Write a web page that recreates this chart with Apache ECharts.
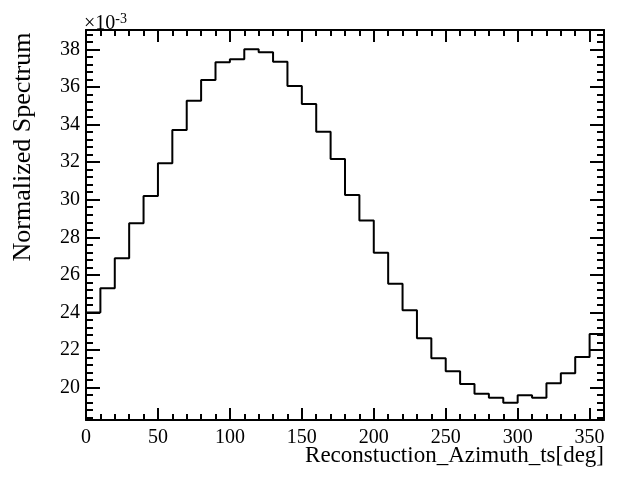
<!DOCTYPE html>
<html>
<head>
<meta charset="utf-8">
<script src="https://cdn.jsdelivr.net/npm/echarts@6/dist/echarts.min.js"></script>
<style>
html,body{margin:0;padding:0;background:#fff;}
#chart{width:623px;height:479px;}
</style>
</head>
<body>
<div id="chart"></div>
<script>
// Bin lower edges (deg), 10-degree bins from 0 to 360
var binEdges = [0,10,20,30,40,50,60,70,80,90,100,110,120,130,140,150,160,170,180,190,200,210,220,230,240,250,260,270,280,290,300,310,320,330,340,350,360];
// Normalized spectrum per bin, in units of 1e-3
var binValues = [24.00,25.29,26.88,28.75,30.20,31.94,33.71,35.27,36.37,37.31,37.47,38.00,37.84,37.34,36.05,35.09,33.62,32.16,30.25,28.90,27.18,25.53,24.12,22.63,21.56,20.87,20.20,19.68,19.47,19.20,19.60,19.47,20.23,20.77,21.63,22.86];
// Tick labels
var xTickLabels = [0,50,100,150,200,250,300,350];
var yTickLabels = [20,22,24,26,28,30,32,34,36,38];
var xMinorTicks = [10,20,30,40,60,70,80,90,110,120,130,140,160,170,180,190,210,220,230,240,260,270,280,290,310,320,330,340,360];
var yMinorTicks = [18.4,18.8,19.2,19.6,20.4,20.8,21.2,21.6,22.4,22.8,23.2,23.6,24.4,24.8,25.2,25.6,26.4,26.8,27.2,27.6,28.4,28.8,29.2,29.6,30.4,30.8,31.2,31.6,32.4,32.8,33.2,33.6,34.4,34.8,35.2,35.6,36.4,36.8,37.2,37.6,38.4,38.8];
var xRange = [0,360];
var yRange = [18.28,39.03];

var FONT = '"Liberation Serif","Times New Roman",serif';

// step data: each bin value held across its bin, final edge repeats last value
var stepData = binEdges.map(function(e,i){ return [e, binValues[Math.min(i, binValues.length-1)]]; });

function xAx(pos, ticks, len, showLine, showLabel){
  return {
    type:'value', position:pos, min:xRange[0], max:xRange[1], offset:0,
    axisLine:{show:showLine, onZero:false, lineStyle:{color:'#000', width:2}},
    axisTick:{show:true, inside:true, length:len, customValues:ticks, lineStyle:{color:'#000', width:2}},
    axisLabel:{show:showLabel, customValues:ticks, color:'#000', fontFamily:FONT, fontSize:20, margin:8},
    splitLine:{show:false}, minorTick:{show:false}
  };
}
function yAx(pos, ticks, len, showLine, showLabel){
  return {
    type:'value', position:pos, min:yRange[0], max:yRange[1], offset:0,
    axisLine:{show:showLine, onZero:false, lineStyle:{color:'#000', width:2}},
    axisTick:{show:true, inside:true, length:len, customValues:ticks, lineStyle:{color:'#000', width:2}},
    axisLabel:{show:showLabel, customValues:ticks, color:'#000', fontFamily:FONT, fontSize:20, margin:6},
    splitLine:{show:false}, minorTick:{show:false}
  };
}

var chart = echarts.init(document.getElementById('chart'), null, {renderer:'canvas'});
chart.setOption({
  animation:false,
  backgroundColor:'#fff',
  grid:{left:86, right:19, top:30, bottom:59, containLabel:false, outerBoundsMode:'none'},
  xAxis:[
    xAx('bottom', xTickLabels, 12, true, true),
    xAx('bottom', xMinorTicks, 6, false, false),
    xAx('top', xTickLabels, 12, true, false),
    xAx('top', xMinorTicks, 6, false, false)
  ],
  yAxis:[
    yAx('left', yTickLabels, 14, true, true),
    yAx('left', yMinorTicks, 7, false, false),
    yAx('right', yTickLabels, 14, true, false),
    yAx('right', yMinorTicks, 7, false, false)
  ],
  series:[{
    type:'line', xAxisIndex:0, yAxisIndex:0, step:'end', data:stepData,
    symbol:'none', lineStyle:{color:'#000', width:2}, silent:true
  }],
  graphic:[
    {type:'text', left:84, top:12, style:{
      text:'{a|×10}{b|-3}', fill:'#000',
      rich:{a:{fontFamily:FONT, fontSize:20, verticalAlign:'bottom', lineHeight:22},
            b:{fontFamily:FONT, fontSize:14, verticalAlign:'top', lineHeight:22}}
    }},
    {type:'text', right:19, top:444, style:{
      text:'Reconstuction_Azimuth_ts[deg]', fill:'#000', fontFamily:FONT, fontSize:23
    }},
    {type:'text', x:23, y:147, rotation:Math.PI/2, style:{
      text:'Normalized Spectrum', fill:'#000', fontFamily:FONT, fontSize:26,
      align:'center', verticalAlign:'middle'
    }}
  ]
});
</script>
</body>
</html>
